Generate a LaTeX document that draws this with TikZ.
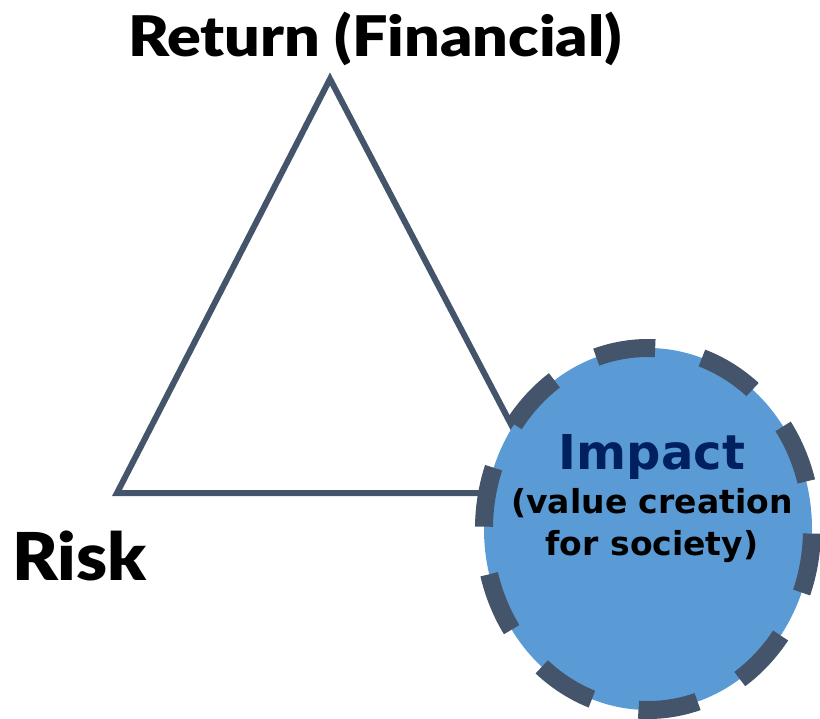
\documentclass[tikz,border=0pt]{standalone}
\usepackage{fontspec}
\setmainfont{Lato}[BoldFont={Lato Black}]
\newfontfamily\headfont{Lato Black}[FakeStretch=1.12]
\newfontfamily\riskfont{Lato Black}[FakeStretch=1.06]
\newfontfamily\impactfont{DejaVu Sans}
\usetikzlibrary{shapes.geometric}

\definecolor{slate}{HTML}{44546A}
\definecolor{impactblue}{HTML}{5B9BD5}
\definecolor{navy}{HTML}{002060}

\begin{document}
\begin{tikzpicture}[x=1pt, y=-1pt,
    headline/.style={anchor=base, inner sep=0pt, font=\headfont\fontsize{56}{60}\selectfont},
    impactline/.style={anchor=base, inner sep=0pt, font=\impactfont\bfseries\fontsize{33}{36}\selectfont}]
      \useasboundingbox (0,0) rectangle (820,719);

      % triangle corners
      \coordinate (top) at (330,79);
      \coordinate (left) at (117,493);
      \coordinate (right) at (547,493);
      \draw[slate, line width=6pt, line join=miter] (left) -- (top) -- (right) -- cycle;

      % impact bubble
      \node[ellipse, draw=slate, fill=impactblue, line width=18pt,
            dash pattern=on 60pt off 48pt, dash phase=60pt,
            minimum width=328pt, minimum height=362pt, inner sep=0pt] (bubble) at (648,529) {};

      \node[impactline, text=navy, font=\impactfont\bfseries\fontsize{48}{50}\selectfont] (impact) at (652,470) {Impact};
      \node[impactline] (value) at (652,513) {(value creation};
      \node[impactline] (society) at (652,555) {for society)};

      \node[headline] (return) at (375,57) {Return (Financial)};
      \node[headline, anchor=base west, font=\riskfont\fontsize{66}{70}\selectfont] (risk) at (12,580) {Risk};
    \end{tikzpicture}
\end{document}
